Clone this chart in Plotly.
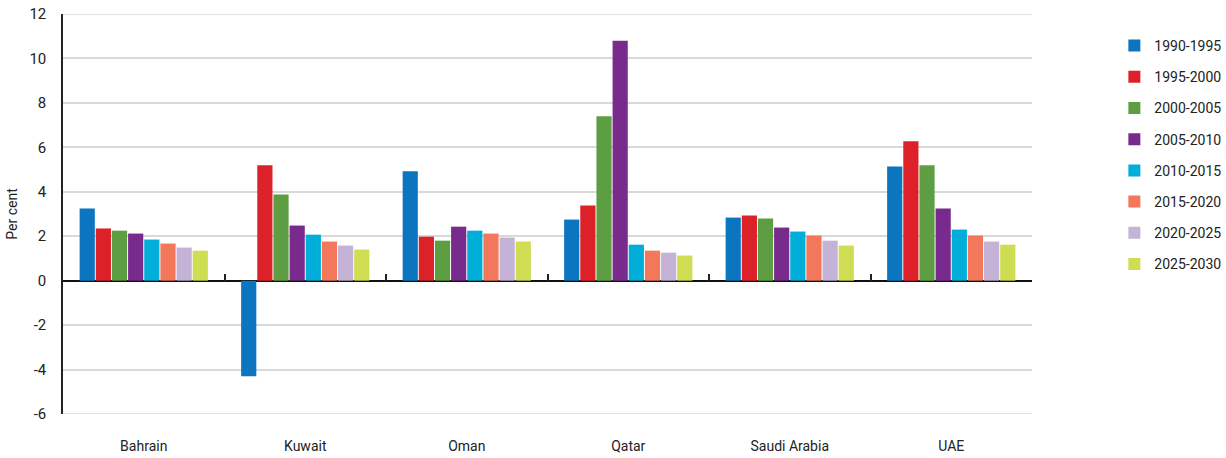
import plotly.graph_objects as go

countries = ["Bahrain", "Kuwait", "Oman", "Qatar", "Saudi Arabia", "UAE"]
periods = ["1990-1995", "1995-2000", "2000-2005", "2005-2010",
           "2010-2015", "2015-2020", "2020-2025", "2025-2030"]

v1990_1995 = [3.25, -4.3, 4.92, 2.75, 2.84, 5.14]
v1995_2000 = [2.35, 5.19, 1.98, 3.38, 2.93, 6.27]
v2000_2005 = [2.25, 3.88, 1.80, 7.40, 2.80, 5.19]
v2005_2010 = [2.12, 2.48, 2.43, 10.8, 2.39, 3.25]
v2010_2015 = [1.85, 2.07, 2.25, 1.62, 2.21, 2.30]
v2015_2020 = [1.67, 1.76, 2.12, 1.35, 2.03, 2.03]
v2020_2025 = [1.49, 1.58, 1.94, 1.26, 1.80, 1.76]
v2025_2030 = [1.35, 1.40, 1.76, 1.13, 1.58, 1.62]

y_ticks = [-6, -4, -2, 0, 2, 4, 6, 8, 10, 12]
y_tick_labels = ["-6", "-4", "-2", "0", "2", "4", "6", "8", "10", "12"]

series = [v1990_1995, v1995_2000, v2000_2005, v2005_2010,
          v2010_2015, v2015_2020, v2020_2025, v2025_2030]
colors = ["#0b75bf", "#dc2128", "#5e9e43", "#782b8d",
          "#00aed9", "#f2775b", "#c5b2d7", "#cedd52"]

FONT = "Roboto, Arial, sans-serif"

fig = go.Figure()
for name, vals, col in zip(periods, series, colors):
    fig.add_trace(go.Bar(x=countries, y=vals, name=name, marker_color=col,
                         marker_line_width=0, legendgroup=name))

# invisible trace to carry the boundary ticks along the zero line
fig.add_trace(go.Scatter(x=countries, y=[0] * len(countries), mode="none",
                         xaxis="x2", showlegend=False, hoverinfo="skip"))

# edge grid lines (top and bottom of the value range)
for yv in (y_ticks[0], y_ticks[-1]):
    fig.add_shape(type="line", xref="paper", yref="y", x0=0, x1=1,
                  y0=yv, y1=yv, line=dict(color="#d9d9d9", width=1.5),
                  layer="below")

fig.update_layout(
    width=1226, height=458,
    margin=dict(l=63, r=194, t=14, b=44, autoexpand=False),
    paper_bgcolor="white", plot_bgcolor="white",
    font=dict(family=FONT, size=14, color="#222222"),
    barmode="group", bargap=0.2, bargroupgap=0.06,
    showlegend=True,
    legend=dict(x=1.085, y=0.96, xanchor="left", yanchor="top",
                font=dict(size=14, color="#222222"),
                tracegroupgap=10, itemwidth=30),
    xaxis=dict(type="category", range=[-0.5, 5.5], showline=False,
               showgrid=False, ticks="", ticklabelstandoff=22,
               tickfont=dict(size=14), automargin=False),
    xaxis2=dict(type="category", overlaying="x", anchor="free",
                position=6 / 18, range=[-0.5, 5.5], showline=False,
                showgrid=False, showticklabels=False, ticks="inside",
                tickson="boundaries", ticklen=7, tickwidth=2,
                tickcolor="#222222", side="bottom"),
    yaxis=dict(range=[-6, 12], tickvals=y_ticks, ticktext=y_tick_labels,
               showgrid=True, gridcolor="#d9d9d9",
               gridwidth=1.5, zeroline=True, zerolinecolor="#111111",
               zerolinewidth=1.5, showline=True, linecolor="#222222",
               linewidth=1.5, ticks="", ticklabelstandoff=12,
               tickfont=dict(size=15), automargin=False,
               title=dict(text="Per cent", font=dict(size=14), standoff=8)),
)

fig.write_html("out.html",
               config={"displayModeBar": False},
               post_script="document.body.style.margin='0';"
                           "document.body.style.overflow='hidden';")
